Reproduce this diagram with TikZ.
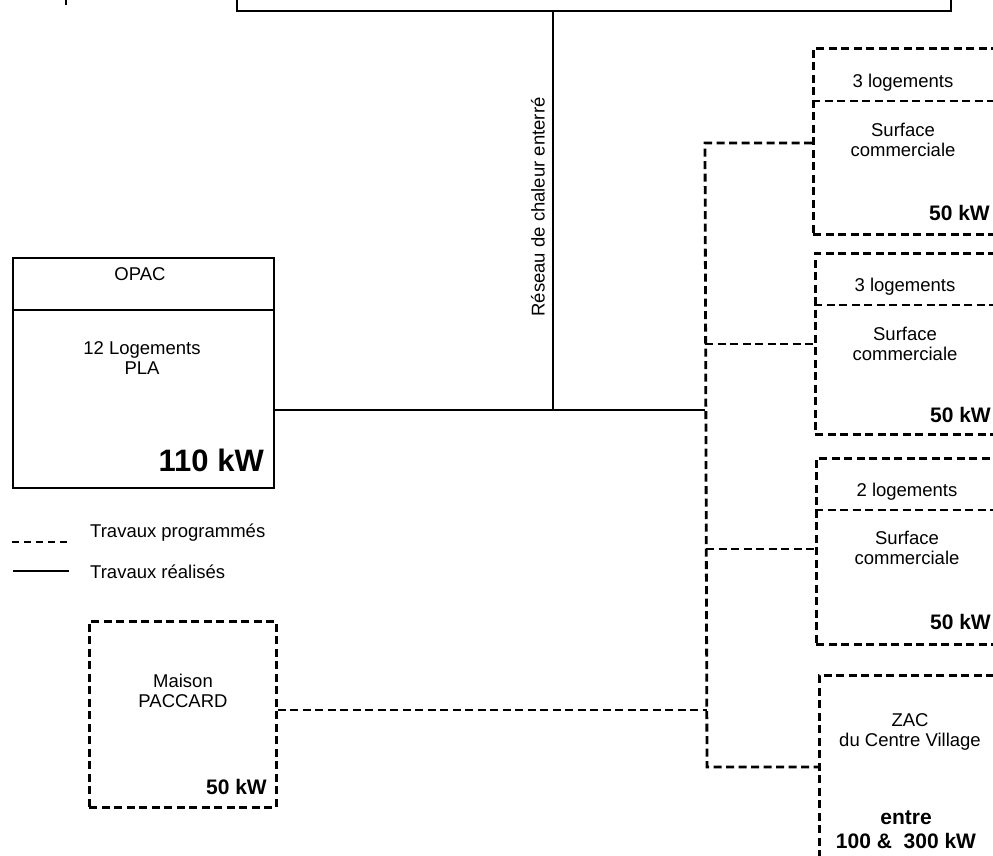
\documentclass[tikz,border=0pt]{standalone}
\usepackage{fontspec}
\setmainfont{Liberation Sans}
\begin{document}
\begin{tikzpicture}[x=1pt,y=-1pt,
  solidline/.style={line width=2.2pt},
  dashline/.style={line width=2.8pt, dash pattern=on 8pt off 4.5pt},
  box/.style={draw, inner sep=0pt, anchor=north west},
  lbl/.style={font=\fontsize{18.5}{20}\selectfont, align=center, inner sep=0pt},
  kw/.style={font=\fontsize{21}{24}\selectfont\bfseries, align=center, inner sep=0pt},
  legtxt/.style={font=\fontsize{18.5}{20}\selectfont, anchor=west, inner sep=0pt},
]
\useasboundingbox (0,0) rectangle (993,855);
\clip (0,0) rectangle (993,855);

% top box (cut by the upper edge)
\node[box, solidline, minimum width=714pt, minimum height=60pt, anchor=south west] (top) at (236,12) {};
\draw[line width=1.5pt] (66,-2) -- (66,5);

% junction coordinates
\coordinate (j) at (553,410);
\coordinate (t1) at (705,143);
\coordinate (t2) at (705,410);
\coordinate (tb2) at (705,344);
\coordinate (tb3) at (706,549);
\coordinate (tp) at (707,710);
\coordinate (t6) at (707,767);

% OPAC
\node[box, solidline, minimum width=261pt, minimum height=230pt] (opac) at (12,257) {};
\draw[solidline] (12,310) -- (273,310);
\node[lbl] (opacT) at (140,274) {OPAC};
\node[lbl] (opacL) at (142,358) {12 Logements\\PLA};
\node[font=\fontsize{31}{34}\selectfont\bfseries, anchor=east, inner sep=0pt] (opacK) at (264,460) {110 kW};

% network label
\node[lbl, rotate=90] (res) at (538,207) {Réseau de chaleur enterré};

% solid network
\draw[solidline] (top.south -| j) -- (j);
\draw[solidline] (opac.east |- j) -- (j) -- (t2);

% right boxes
\node[box, dashline, minimum width=200pt, minimum height=186pt] (b1) at (812,47) {};
\draw[dashline] (812,101) -- (1012,101);
\node[lbl] (b1a) at (903,83) {3 logements};
\node[lbl] (b1b) at (903,140) {Surface\\commerciale};
\node[kw, anchor=east] (b1k) at (990,213) {50 kW};

\node[box, dashline, minimum width=200pt, minimum height=181pt] (b2) at (814,252) {};
\draw[dashline] (814,305) -- (1014,305);
\node[lbl] (b2a) at (905,287) {3 logements};
\node[lbl] (b2b) at (905,344) {Surface\\commerciale};
\node[kw, anchor=east] (b2k) at (991,415) {50 kW};

\node[box, dashline, minimum width=200pt, minimum height=186pt] (b3) at (815,457) {};
\draw[dashline] (815,510) -- (1015,510);
\node[lbl] (b3a) at (907,492) {2 logements};
\node[lbl] (b3b) at (907,548) {Surface\\commerciale};
\node[kw, anchor=east] (b3k) at (991,622) {50 kW};

\node[box, dashline, minimum width=200pt, minimum height=250pt] (zac) at (818,674) {};
\node[lbl] (zaca) at (910,732) {ZAC\\du Centre Village};
\node[kw] (zack) at (906,830) {entre\\100 \&\ \ 300 kW};

% PACCARD
\node[box, dashline, minimum width=187pt, minimum height=186pt] (pac) at (88,620) {};
\node[lbl] (paca) at (183,691) {Maison\\PACCARD};
\node[kw, anchor=east] (pack) at (267,787) {50 kW};

% dashed network
\draw[dashline] (b1.west |- t1) -- (t1) -- (t6) -- (zac.west |- t6);
\draw[dashline] (tb2) -- (b2.west |- tb2);
\draw[dashline] (tb3) -- (b3.west |- tb3);
\draw[dashline] (pac.east |- tp) -- (tp);

% legend
\coordinate (l1a) at (12,542); \coordinate (l1b) at (68,542);
\coordinate (l2a) at (13,571); \coordinate (l2b) at (69,571);
\draw[dashline, line width=2.4pt, dash pattern=on 7pt off 5pt] (l1a) -- (l1b);
\draw[solidline] (l2a) -- (l2b);
\node[legtxt] (leg1) at (90,533) {Travaux programmés};
\node[legtxt] (leg2) at (90,572) {Travaux réalisés};
\end{tikzpicture}
\end{document}
